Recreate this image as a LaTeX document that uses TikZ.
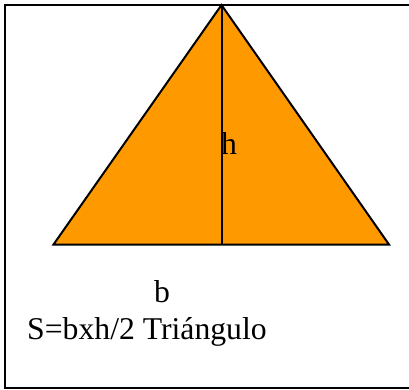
\documentclass[tikz,border=0pt]{standalone}
\usepackage{fontspec}
\setmainfont{Liberation Serif}
\usepackage{tikz}
\usetikzlibrary{positioning, calc}
\definecolor{naranja}{HTML}{FF9900}
\definecolor{negro}{HTML}{000000}
\tikzset{
  marco/.style={draw=negro, line width=2.2pt},
  triangulo/.style={draw=negro, line width=2pt, fill=naranja, line join=miter},
  altura/.style={draw=negro, line width=2pt},
  texto/.style={font=\fontsize{31.7}{36}\selectfont, inner sep=0pt, text=negro}
}
\begin{document}
\begin{tikzpicture}[x=1pt, y=1pt]
  \useasboundingbox (0,0) rectangle (409,389);
  \clip (0,0) rectangle (409,389);
  \fill [white] (0,0) rectangle (409,389);
  \draw [marco] (5,1) rectangle (416,384);
  \coordinate (izq) at (53.5,144.5);
  \coordinate (der) at (389,144.5);
  \coordinate (cima) at (221.5,384);
  \coordinate (pie) at (221.5,144.5);
  \draw [triangulo] (izq) -- (der) -- (cima) -- cycle;
  \draw [altura] (cima) -- (pie);
  \node (alt) [texto, anchor=base west] at (221,235) {h};
  \node (base) [texto, anchor=base] at (162,87) {b};
  \node (formula) [texto, anchor=base west] at (27,50) {S=bxh/2 Triángulo};
\end{tikzpicture}
\end{document}
